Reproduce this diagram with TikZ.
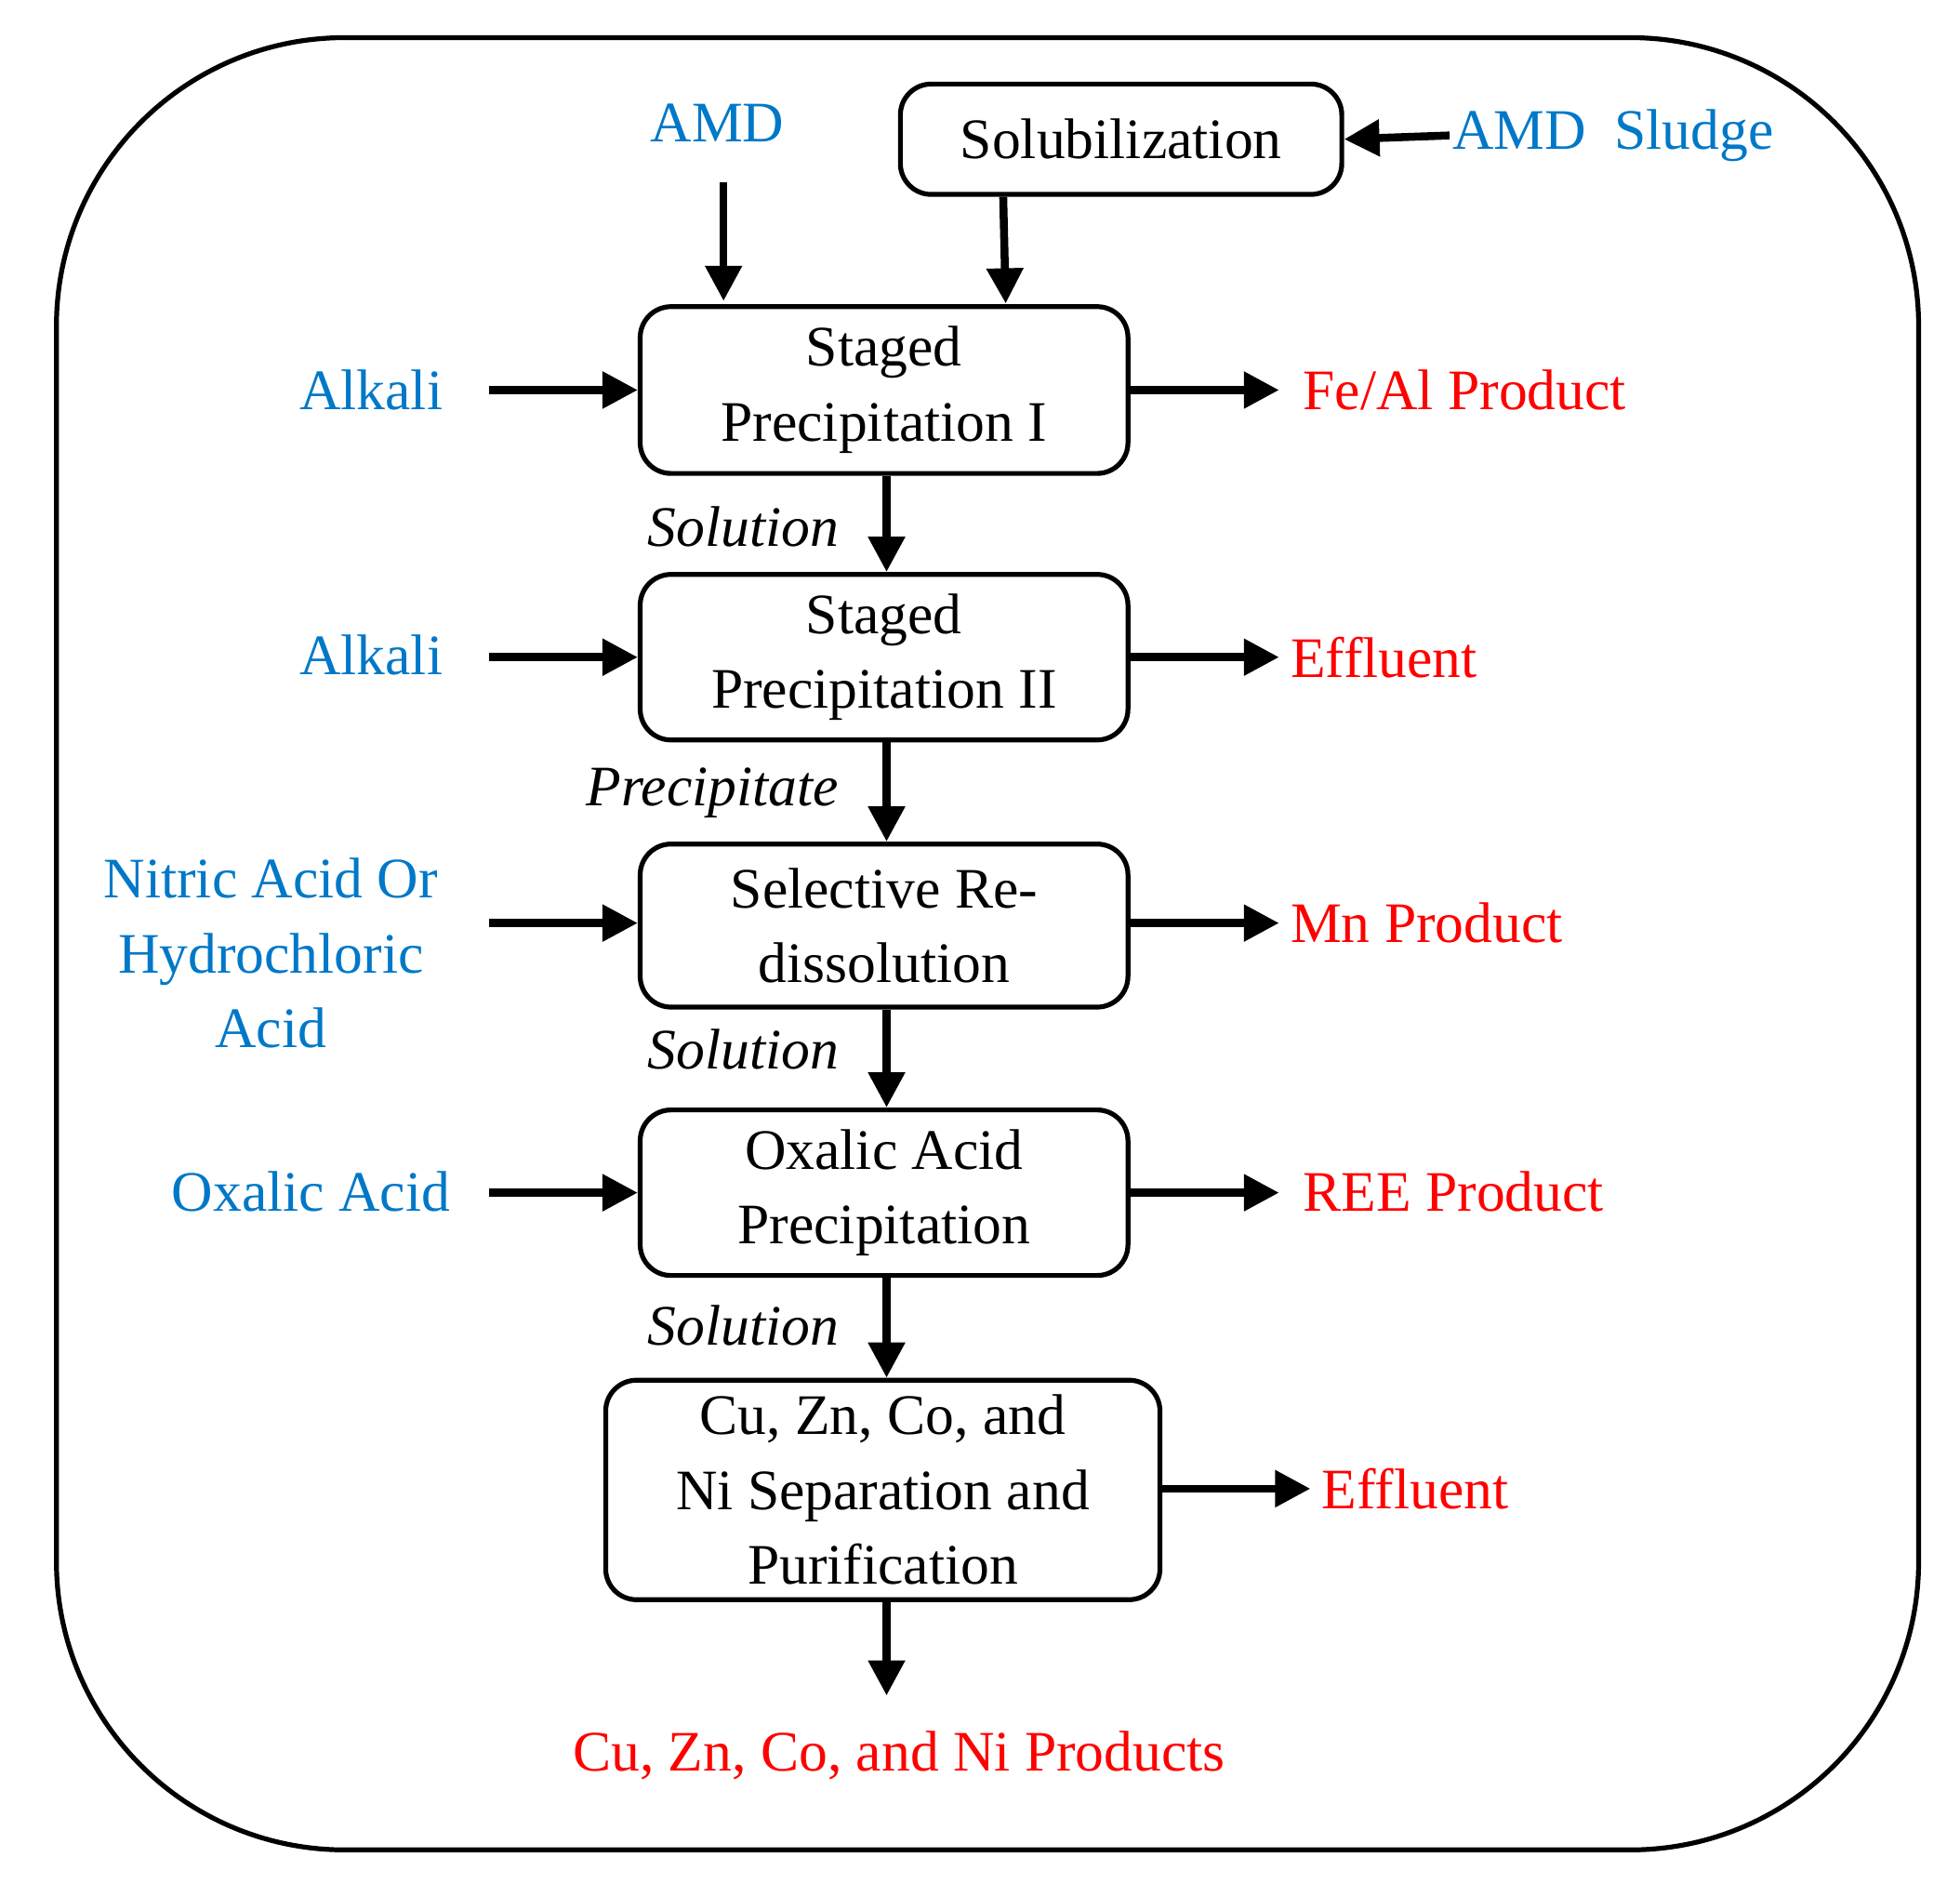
\documentclass[tikz,border=0pt]{standalone}
\usepackage{fontspec}
\setmainfont{Liberation Serif}
\usetikzlibrary{arrows.meta}
\definecolor{cblue}{RGB}{0,120,200}
\definecolor{cred}{RGB}{255,0,0}
\begin{document}
\begin{tikzpicture}[x=0.02cm,y=-0.02cm,
  box/.style={draw,line width=2.2pt,rounded corners=14pt,inner sep=0pt},
  lab/.style={font=\fontsize{26}{34}\selectfont,align=center},
  inp/.style={lab,text=cblue},
  outp/.style={lab,text=cred},
  it/.style={lab,font=\fontsize{26}{34}\selectfont\itshape},
  arr/.style={line width=3.6pt,-{Triangle[length=16pt,width=16pt]}}]
\useasboundingbox (0,0) rectangle (1563,1512);
\draw[line width=2.2pt,rounded corners=230*0.02cm] (45,30) rectangle (1530,1475);
% boxes
\node[box,minimum width=352*0.02cm,minimum height=88*0.02cm,lab] (sol) at (894,111) {Solubilization};
\node[box,minimum width=389*0.02cm,minimum height=133*0.02cm,lab] (sp1) at (705,311) {Staged\\Precipitation I};
\node[box,minimum width=389*0.02cm,minimum height=132*0.02cm,lab] (sp2) at (705,524) {Staged\\Precipitation II};
\node[box,minimum width=389*0.02cm,minimum height=130*0.02cm,lab] (sel) at (705,738) {Selective Re-\\dissolution};
\node[box,minimum width=389*0.02cm,minimum height=132*0.02cm,lab] (ox) at (705,951) {Oxalic Acid\\Precipitation};
\node[box,minimum width=442*0.02cm,minimum height=175*0.02cm,lab] (cu) at (704,1188) {Cu, Zn, Co, and\\Ni Separation and\\Purification};
% inputs
\node[inp] (amd) at (572,98) {AMD};
\node[inp,anchor=west] (sludge) at (1152,108) {AMD\ \ Sludge};
\node[inp] (alk1) at (296,311) {Alkali};
\node[inp] (alk2) at (296,522) {Alkali};
\node[inp] (nit) at (216,760) {Nitric Acid Or\\Hydrochloric\\Acid};
\node[inp] (oxa) at (248,950) {Oxalic Acid};
% outputs
\node[outp,anchor=west] (fe) at (1033,311) {Fe/Al Product};
\node[outp,anchor=west] (ef1) at (1023,524) {Effluent};
\node[outp,anchor=west] (mn) at (1023,736) {Mn Product};
\node[outp,anchor=west] (ree) at (1033,950) {REE Product};
\node[outp,anchor=west] (ef2) at (1048,1187) {Effluent};
\node[outp] (prod) at (717,1400) {Cu, Zn, Co, and Ni Products};
% italics
\node[it,anchor=east] (s1) at (675,420) {Solution};
\node[it,anchor=east] (pr) at (675,632) {Precipitate};
\node[it,anchor=east] (s2) at (675,837) {Solution};
\node[it,anchor=east] (s3) at (675,1057) {Solution};
% arrows
\coordinate (a0) at (577,145);
\draw[arr] (a0) -- (577,240);
\draw[arr] (sol.south -| 800,0) -- (802,242);
\draw[arr] (sludge.west) ++(4,0) -- (sol.east);
\draw[arr] (390,311) -- (sp1.west);
\draw[arr] (390,524) -- (sp2.west);
\draw[arr] (390,736) -- (sel.west|-0,736);
\draw[arr] (390,951) -- (ox.west);
\draw[arr] (sp1.east) -- (1020,311);
\draw[arr] (sp2.east) -- (1020,524);
\draw[arr] (sel.east|-0,736) -- (1020,736);
\draw[arr] (ox.east) -- (1020,951);
\draw[arr] (cu.east|-0,1187) -- (1045,1187);
\draw[arr] (sp1.south-|707,0) -- (sp2.north-|707,0);
\draw[arr] (sp2.south-|707,0) -- (sel.north-|707,0);
\draw[arr] (sel.south-|707,0) -- (ox.north-|707,0);
\draw[arr] (ox.south-|707,0) -- (cu.north-|707,0);
\draw[arr] (cu.south-|707,0) -- (707,1352);
\end{tikzpicture}
\end{document}
